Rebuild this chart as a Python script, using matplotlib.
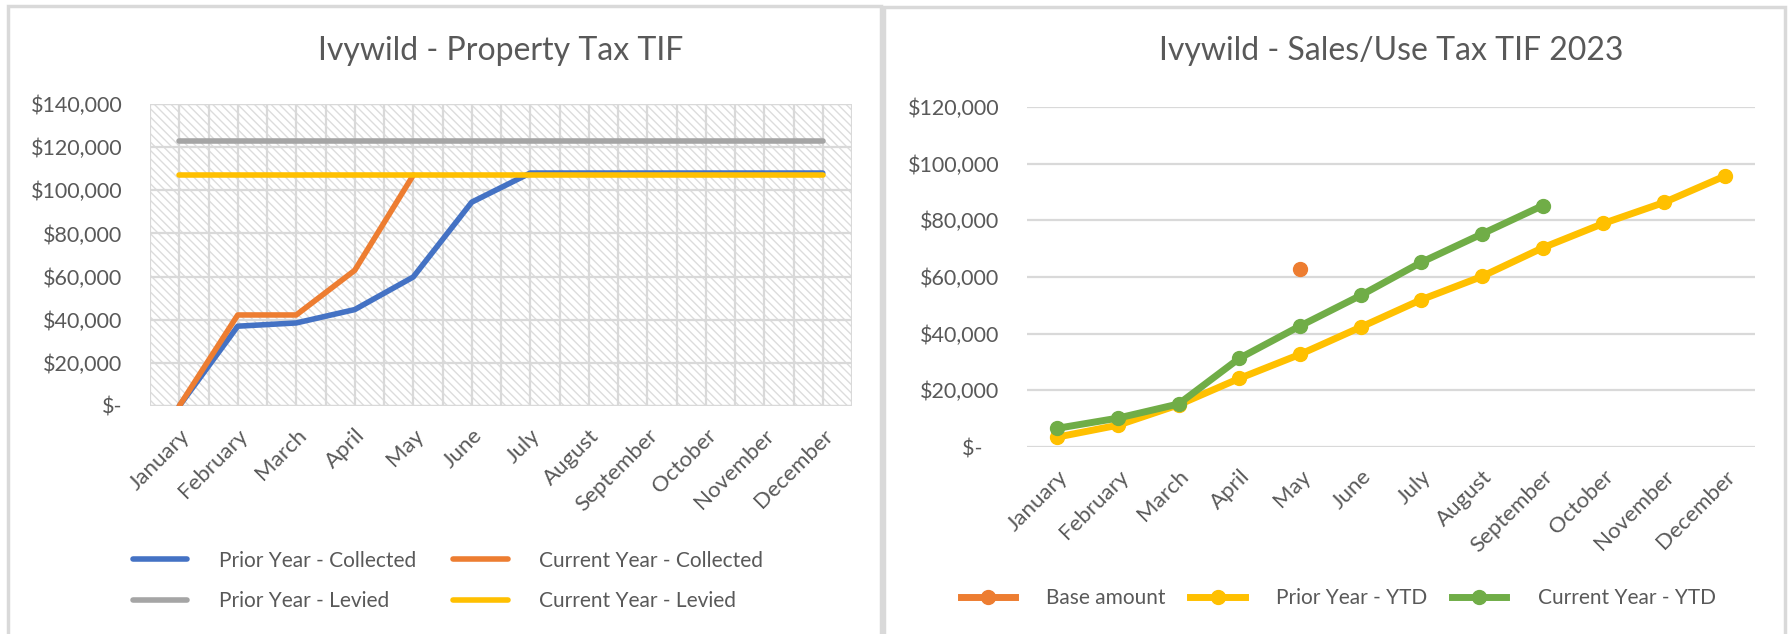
import numpy as np
import matplotlib
matplotlib.use('Agg')
import matplotlib.pyplot as plt
from matplotlib.patches import Rectangle
from matplotlib.ticker import FuncFormatter

plt.rcParams['font.family'] = ['Lato', 'DejaVu Sans']
plt.rcParams['hatch.linewidth'] = 1.0

months = ['January', 'February', 'March', 'April', 'May', 'June', 'July',
          'August', 'September', 'October', 'November', 'December']

# Property tax TIF (left chart)
prior_collected = [0, 37000, 38500, 44700, 59800, 94500, 108000, 108000, 108000, 108000, 108000, 108000]
current_collected = [0, 42200, 42200, 62900, 107000]
prior_levied = [123000] * 12
current_levied = [107200] * 12

# Sales/use tax TIF 2023 (right chart)
base_amount_month = 'May'
base_amount = 63000
prior_ytd = [3500, 7700, 14900, 24200, 32700, 42300, 52000, 60200, 70300, 78900, 86300, 95600]
current_ytd = [6600, 10200, 15200, 31300, 42700, 53500, 65200, 75200, 85200]

TXT = '#595959'
GRID = '#D9D9D9'
BLUE = '#4472C4'
ORANGE = '#ED7D31'
GRAY = '#A5A5A5'
GOLD = '#FFC000'
GREEN = '#70AD47'

W, H = 1792, 634
fig = plt.figure(figsize=(W / 100, H / 100), dpi=100)

# panel borders
for x0, x1, y0 in [(8, 881, 6), (884, 1785, 7)]:
    fig.patches.append(Rectangle((x0 / W, -0.05), (x1 - x0) / W, 1.05 - y0 / H,
                                 transform=fig.transFigure, facecolor='none',
                                 edgecolor=GRID, linewidth=2.5))


def make_fmt(zero):
    def fmt(v, pos):
        if abs(v) < 1:
            return zero
        return '${:,.0f}'.format(v)
    return FuncFormatter(fmt)


def style_axes(ax, top, step, zero):
    ax.set_xlim(-0.5, 11.5)
    ax.set_ylim(0, top)
    ax.set_yticks(np.arange(0, top + 1, step))
    ax.yaxis.set_major_formatter(make_fmt(zero))
    ax.set_xticks(range(12))
    ax.set_xticklabels(months, rotation=45, ha='right', rotation_mode='anchor')
    ax.tick_params(axis='both', length=0, colors=TXT)
    ax.tick_params(axis='y', pad=20, labelsize=15.5)
    ax.tick_params(axis='x', pad=14, labelsize=16)
    for s in ax.spines.values():
        s.set_visible(False)
    ax.grid(axis='y', color=GRID, linewidth=1.6, zorder=1)
    ax.set_axisbelow(True)


# ---- left chart ----
ax1 = fig.add_axes([150 / W, 1 - 406 / H, 702 / W, 302 / H])
style_axes(ax1, 140000, 20000, '$-')
ax1.add_patch(Rectangle((0, 0), 1, 1, transform=ax1.transAxes, facecolor='white',
                        edgecolor='#DCDCDC', hatch='\\\\\\\\', linewidth=0, zorder=0))
ax1.set_xticks(np.arange(-0.5, 12, 1), minor=True)
ax1.tick_params(axis='x', which='minor', length=0)
ax1.grid(axis='x', which='both', color=GRID, linewidth=1.6, zorder=1)
ax1.axhline(0, color=GRID, linewidth=1.6, zorder=1)
ax1.axhline(140000, color=GRID, linewidth=1.6, zorder=1)

x = np.arange(12)
l1, = ax1.plot(x, prior_collected, color=BLUE, lw=4, label='Prior Year - Collected', zorder=3)
l2, = ax1.plot(x[:len(current_collected)], current_collected, color=ORANGE, lw=4,
               label='Current Year - Collected', zorder=3)
l3, = ax1.plot(x, prior_levied, color=GRAY, lw=4, label='Prior Year - Levied', zorder=3)
l4, = ax1.plot(x, current_levied, color=GOLD, lw=4, label='Current Year - Levied', zorder=3)
for l in (l1, l2, l3, l4):
    l.set_solid_capstyle('round')

ax1.set_title('Ivywild - Property Tax TIF', color=TXT, fontsize=23, pad=32)
fig.legend([l1, l3, l2, l4], [l.get_label() for l in (l1, l3, l2, l4)],
           ncol=2, loc='center', bbox_to_anchor=(448 / W, 1 - 581 / H),
           frameon=False, fontsize=15, labelcolor=TXT, handlelength=2.6,
           handletextpad=1.5, columnspacing=1.8, labelspacing=1.0)

# ---- right chart ----
ax2 = fig.add_axes([1027 / W, 1 - 447 / H, 728 / W, 340 / H])
style_axes(ax2, 120000, 20000, '$-   ')
mi = months.index(base_amount_month)
m1, = ax2.plot([mi], [base_amount], color=ORANGE, lw=5, marker='o', ms=10,
               label='Base amount', zorder=3)
m2, = ax2.plot(x, prior_ytd, color=GOLD, lw=5, marker='o', ms=10,
               label='Prior Year - YTD', zorder=3)
m3, = ax2.plot(x[:len(current_ytd)], current_ytd, color=GREEN, lw=5, marker='o', ms=10,
               label='Current Year - YTD', zorder=4)
ax2.set_title('Ivywild - Sales/Use Tax TIF 2023', color=TXT, fontsize=23, pad=34)
fig.legend([m1, m2, m3], [m.get_label() for m in (m1, m2, m3)],
           ncol=3, loc='center', bbox_to_anchor=(1338 / W, 1 - 598 / H),
           frameon=False, fontsize=15, labelcolor=TXT, handlelength=2.6,
           handletextpad=1.5, columnspacing=1.2)

fig.savefig('out.png', dpi=100, facecolor='white')
